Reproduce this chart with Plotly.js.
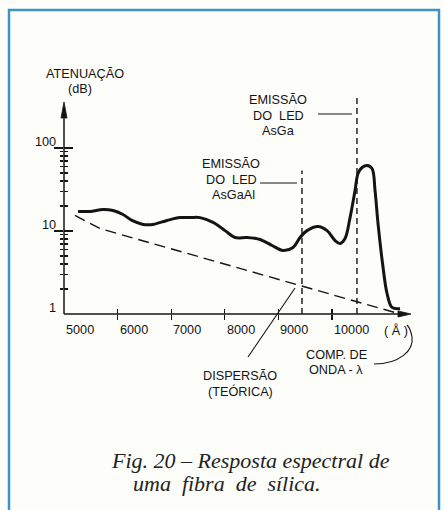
<!DOCTYPE html>
<html>
<head>
<meta charset="utf-8">
<script src="https://cdn.plot.ly/plotly-3.0.1.min.js"></script>
<style>
html,body{margin:0;padding:0;background:#fdfdf9;}
#chart{width:444px;height:510px;}
</style>
</head>
<body>
<div id="chart"></div>
<script>
// ---- data ----
const wavelength = [5261,5485,5728,5914,6101,6269,6474,6661,6922,7165,7351,7538,7781,8005,8191,8415,8658,8881,9087,9273,9404,9534,9740,9908,10057,10150,10243,10337,10430,10486,10561,10654,10747,10803,10859,10953,11027,11120,11270];
const attenuation = [17.2,17.2,18.2,17.7,15.8,13.4,12.0,12.0,13.4,14.5,14.5,14.5,12.7,10.1,8.35,8.35,7.90,6.69,5.82,6.33,8.35,10.1,11.3,10.1,7.68,7.07,8.12,14.5,30.8,49.3,58.2,61.5,56.6,30.8,12.3,3.63,1.77,1.20,1.16];
const dispersionWavelength = [5205,5448,5670,11270];
const dispersionAttenuation = [15.4,12.7,10.7,1.0];
const ledNames = ['AsGaAl','AsGa'];
const ledWavelength = [9440,10466];
const ledTop = [53.6,406];
const xTickVals = [5000,6000,7000,8000,9000,10000];
const xTickLabels = ['5000','6000','7000','8000','9000','10000'];
const yTickVals = [1,10,100];
const yTickLabels = ['1','10','100'];
const yMinorVals = [2,3,4,5,6,7,8,9,20,30,40,50,60,70,80,90];

// ---- layout geometry ----
const W = 444, H = 510;
const M = {l:64, r:24, t:90, b:196};
const PW = W - M.l - M.r, PH = H - M.t - M.b;
const xRange = [5000, 11642];
const yRange = [0, 2.6988];
const INK = '#141414';
const SANS = 'Liberation Sans, Arial, sans-serif';
const SERIF = 'Liberation Serif, Times New Roman, serif';
const FS = 12.7;
const NB = '\u00A0';

// decorations in page pixels -> paper fractions
const pxX = p => (p - M.l) / PW;
const pxY = p => (H - M.b - p) / PH;
const pth = pts => pts.map((p,i)=>(i? 'L':'M') + pxX(p[0]).toFixed(4) + ',' + pxY(p[1]).toFixed(4)).join(' ');

const traces = [
  {x: wavelength, y: attenuation, type:'scatter', mode:'lines',
   line:{color:INK, width:3, shape:'spline', smoothing:1}, hoverinfo:'skip', showlegend:false},
  {x: dispersionWavelength, y: dispersionAttenuation, type:'scatter', mode:'lines',
   xaxis:'x2', yaxis:'y2',
   line:{color:INK, width:1.4, dash:'11px,6px'}, hoverinfo:'skip', showlegend:false}
];

const tickCommon = {tickcolor:INK, tickwidth:1.3, showticklabels:false, showgrid:false,
  zeroline:false, showline:false, fixedrange:true};

const shapes = [];
// frame
shapes.push({type:'rect', xref:'paper', yref:'paper', x0:pxX(9), x1:pxX(439), y0:pxY(10), y1:pxY(530),
  line:{color:'#3f92c6', width:2.5}, fillcolor:'rgba(0,0,0,0)'});
// axes lines and arrow heads
shapes.push({type:'line', xref:'paper', yref:'paper', x0:0, y0:0, x1:0, y1:pxY(112), line:{color:INK, width:1.5}});
shapes.push({type:'line', xref:'paper', yref:'paper', x0:0, y0:0, x1:pxX(402), y1:0, line:{color:INK, width:1.5}});
shapes.push({type:'path', xref:'paper', yref:'paper', path: pth([[64,102],[61,118],[67,118]]) + ' Z',
  fillcolor:INK, line:{color:INK, width:0.8}});
shapes.push({type:'path', xref:'paper', yref:'paper', path: pth([[411,314],[398,311],[398,317]]) + ' Z',
  fillcolor:INK, line:{color:INK, width:0.8}});
// LED emission lines
ledWavelength.forEach((w,i)=>{
  shapes.push({type:'line', xref:'x', yref:'y', x0:w, x1:w, y0:1, y1:ledTop[i],
    line:{color:INK, width:1.4, dash:'6px,4px'}});
});
// leaders from LED labels
shapes.push({type:'line', xref:'paper', yref:'paper', x0:pxX(260), x1:pxX(297), y0:pxY(183), y1:pxY(183), line:{color:INK, width:1.1}});
shapes.push({type:'line', xref:'paper', yref:'paper', x0:pxX(318), x1:pxX(352), y0:pxY(114), y1:pxY(114), line:{color:INK, width:1.1}});
// leader to dispersion line
shapes.push({type:'path', xref:'paper', yref:'paper', path: pth([[248,357],[295,288]]), line:{color:INK, width:1.1}});
// curved leader to (Å)
shapes.push({type:'path', xref:'paper', yref:'paper',
  path: 'M' + pxX(374) + ',' + pxY(364) + ' C' + pxX(400) + ',' + pxY(364) + ' ' + pxX(414) + ',' + pxY(350) + ' ' + pxX(412) + ',' + pxY(337)
      + ' C' + pxX(411) + ',' + pxY(331) + ' ' + pxX(410) + ',' + pxY(328) + ' ' + pxX(407) + ',' + pxY(325),
  line:{color:INK, width:1.1}});

const ann = [];
const T = (text, x, y, size, extra) => Object.assign({xref:'paper', yref:'paper', x:pxX(x), y:pxY(y), text,
  showarrow:false, xanchor:'center', yanchor:'middle', font:{family:SANS, size:size||FS, color:INK}}, extra||{});

xTickVals.forEach((v,i)=>{
  ann.push({xref:'x', yref:'paper', x:v, y:0, text:xTickLabels[i], showarrow:false, xanchor:'left', yanchor:'top',
    xshift:0, yshift:-7, font:{family:SANS, size:FS, color:INK}});
});
yTickVals.forEach((v,i)=>{
  ann.push({xref:'paper', yref:'y', x:0, y:Math.log10(v), text:yTickLabels[i], showarrow:false, xanchor:'right', yanchor:'middle',
    xshift:-6, yshift:6, font:{family:SANS, size:FS, color:INK}});
});
ann.push(T('( Å )', 396, 330));
ann.push(T('ATENUAÇÃO', 85, 74));
ann.push(T('(dB)', 80, 89));
ann.push(T('EMISSÃO', 278, 100));
ann.push(T('DO' + NB + NB + 'LED', 278, 116));
ann.push(T(ledNames[1], 278, 131));
ann.push(T('EMISSÃO', 231, 164));
ann.push(T('DO' + NB + NB + 'LED', 231, 180));
ann.push(T(ledNames[0], 233, 195));
ann.push(T('DISPERSÃO', 240, 376));
ann.push(T('(TEÓRICA)', 240, 391));
ann.push(T('COMP. DE', 336, 355));
ann.push(T('ONDA - λ', 336, 370));
ann.push(T('<i>Fig. 20 – Resposta espectral de</i>', 250, 460, 22, {font:{family:SERIF, size:22, color:'#222'}}));
ann.push(T('<i>uma' + NB + ' fibra' + NB + ' de' + NB + ' sílica.</i>', 227, 483, 22, {font:{family:SERIF, size:22, color:'#222'}}));

const layout = {
  width:W, height:H, margin:M,
  paper_bgcolor:'#fdfdf9', plot_bgcolor:'rgba(0,0,0,0)',
  showlegend:false,
  xaxis: Object.assign({range:xRange, tickmode:'array', tickvals:xTickVals.slice(1), ticks:'outside', ticklen:5}, tickCommon),
  xaxis2: Object.assign({range:xRange, overlaying:'x', side:'bottom', tickmode:'array', tickvals:xTickVals.slice(1), ticks:'inside', ticklen:5}, tickCommon),
  yaxis: Object.assign({type:'log', range:yRange, tickmode:'array', tickvals:yTickVals.slice(1), ticks:'outside', ticklen:9,
    minor:{tickmode:'array', tickvals:yMinorVals, ticks:'outside', ticklen:3.5, tickwidth:1.3, tickcolor:INK}}, tickCommon),
  yaxis2: Object.assign({type:'log', range:yRange, overlaying:'y', side:'left', tickmode:'array', tickvals:yTickVals.slice(1), ticks:'inside', ticklen:9,
    minor:{tickmode:'array', tickvals:yMinorVals, ticks:'inside', ticklen:3.5, tickwidth:1.3, tickcolor:INK}}, tickCommon),
  shapes: shapes,
  annotations: ann
};

Plotly.newPlot('chart', traces, layout, {staticPlot:true, displayModeBar:false});
</script>
</body>
</html>
